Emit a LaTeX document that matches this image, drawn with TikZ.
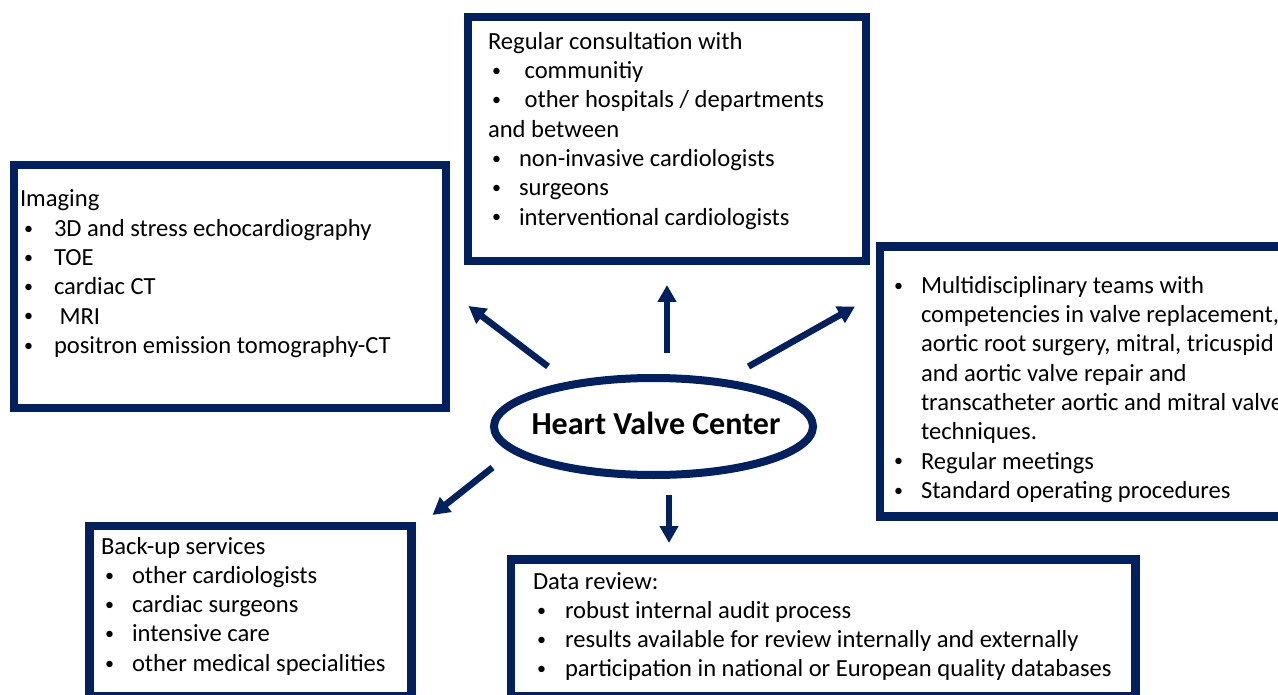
\documentclass[tikz,border=0pt]{standalone}
\usepackage{fontspec}
\setmainfont{Carlito}
\usetikzlibrary{arrows.meta,shapes.geometric}
\definecolor{navy}{RGB}{0,32,96}

% small list bullet
\newcommand{\dotmark}{\raisebox{2.2pt}{\fontsize{18}{18}\selectfont\textbullet}}
% bullet item: bullet followed by text starting at a fixed indent
\newcommand{\bul}[2][31pt]{\makebox[#1][l]{\hspace{4pt}\dotmark}#2}

\tikzset{
  panel/.style={draw=navy, line width=8.5pt, anchor=north west, inner sep=0pt, outer sep=0pt, fill=white},
  listtext/.style={anchor=base west, inner sep=0pt, outer sep=0pt, font=\fontsize{24.6}{29.3}\selectfont},
  ray/.style={draw=navy, line width=6.5pt, -{Triangle[width=18pt,length=17pt]}},
}

\begin{document}
\begin{tikzpicture}[x=1pt,y=-1pt]
\useasboundingbox (0,0) rectangle (1278,695);
\clip (0,0) rectangle (1278,695);

% frames
\node[panel, minimum width=432pt, minimum height=243pt] (imaging) at (14,165) {};
\node[panel, minimum width=398pt, minimum height=244pt] (consult) at (468,17) {};
\node[panel, minimum width=440pt, minimum height=270pt] (teams) at (880,246.5) {};
\node[panel, minimum width=322pt, minimum height=170pt] (backup) at (89.5,526) {};
\node[panel, minimum width=624.5pt, minimum height=136.5pt] (review) at (511,559.5) {};

% centre ellipse
\node[draw=navy, line width=8pt, ellipse, minimum width=319pt, minimum height=97pt,
      inner sep=0pt, outer sep=0pt, fill=white] (hvc) at (653.5,426.5) {};
\node[anchor=base, inner sep=0pt, font=\fontsize{32}{38}\selectfont\bfseries] (hvclabel)
      at (656,434) {Heart Valve Center};

% box texts
\node[listtext] (imagingtext) at (20,207) {\begin{tabular}[t]{@{}l@{}}
Imaging\\
\bul[34pt]{3D and stress echocardiography}\\
\bul[34pt]{TOE}\\
\bul[34pt]{cardiac CT}\\
\bul[34pt]{\ MRI}\\
\bul[34pt]{positron emission tomography-CT}
\end{tabular}};

\node[listtext] (consulttext) at (488,49.3) {\begin{tabular}[t]{@{}l@{}}
Regular consultation with\\
\bul[31pt]{\ communitiy}\\
\bul[31pt]{\ other hospitals / departments}\\
and between\\
\bul[31pt]{non-invasive cardiologists}\\
\bul[31pt]{surgeons}\\
\bul[31pt]{interventional cardiologists}
\end{tabular}};

\node[listtext] (teamstext) at (890,293.3) {\begin{tabular}[t]{@{}l@{}}
\bul{Multidisciplinary teams with}\\
\hspace*{31pt}competencies in valve replacement,\\
\hspace*{31pt}aortic root surgery, mitral, tricuspid\\
\hspace*{31pt}and aortic valve repair and\\
\hspace*{31pt}transcatheter aortic and mitral valve\\
\hspace*{31pt}techniques.\\
\bul{Regular meetings}\\
\bul{Standard operating procedures}
\end{tabular}};

\node[listtext] (backuptext) at (101,554) {\begin{tabular}[t]{@{}l@{}}
Back-up services\\
\bul{other cardiologists}\\
\bul{cardiac surgeons}\\
\bul{intensive care}\\
\bul{other medical specialities}
\end{tabular}};

\node[listtext] (reviewtext) at (533,589) {\begin{tabular}[t]{@{}l@{}}
Data review:\\
\bul[32pt]{robust internal audit process}\\
\bul[32pt]{results available for review internally and externally}\\
\bul[32pt]{participation in national or European quality databases}
\end{tabular}};

% arrows radiating from the centre
\coordinate (upS) at (667,353);     \coordinate (upE) at (667,285);
\coordinate (ulS) at (548,366.5);   \coordinate (ulE) at (468.5,306);
\coordinate (urS) at (748.5,366.5); \coordinate (urE) at (855,306.5);
\coordinate (llS) at (492.5,467.5); \coordinate (llE) at (432.5,515);
\coordinate (dnS) at (669,495);     \coordinate (dnE) at (669,543);

\draw[ray] (upS) -- (upE);
\draw[ray] (ulS) -- (ulE);
\draw[ray] (urS) -- (urE);
\draw[ray] (llS) -- (llE);
\draw[ray] (dnS) -- (dnE);
\end{tikzpicture}
\end{document}
